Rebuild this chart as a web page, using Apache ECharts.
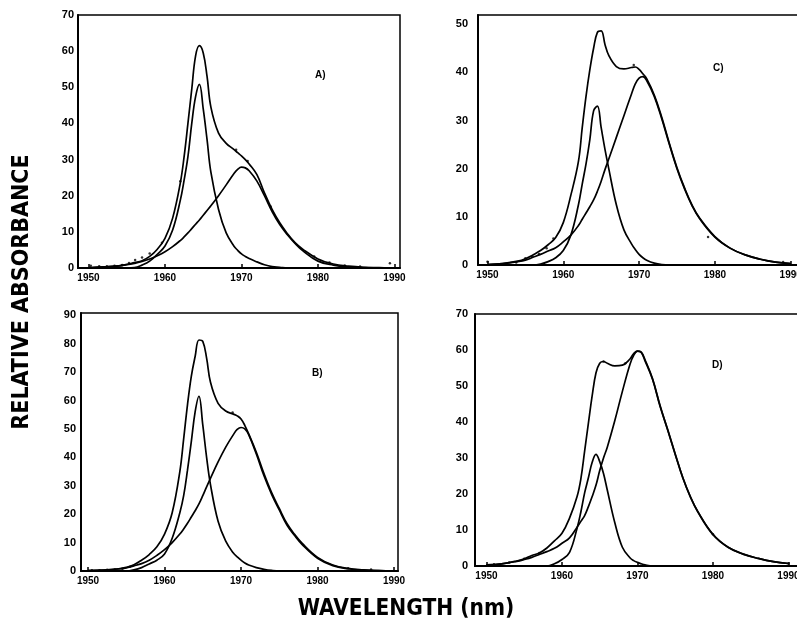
<!DOCTYPE html>
<html>
<head>
<meta charset="utf-8">
<script src="https://cdn.jsdelivr.net/npm/echarts@6/dist/echarts.min.js"></script>
<style>
html,body{margin:0;padding:0;background:#fff;}
#chart{width:797px;height:623px;}
</style>
</head>
<body>
<div id="chart"></div>
<script>
// Wavelength grid (nm)
const wavelength = [1950,1952,1954,1955,1956,1957,1958,1959,1960,1961,1962,1962.5,1963,1963.5,1964,1964.5,1965,1965.5,1966,1967,1968,1969,1969.5,1970,1970.5,1971,1972,1973,1974,1975,1976,1977,1978,1980,1982,1984,1986,1988,1990];

// Panel A
const aPeak1 = [0,0,0,0,0.1,0.8,1.9,3.8,6.1,10.5,18.7,24.3,30.8,40,47.4,50.8,44,35.5,26.5,16.2,9.7,6.1,4.9,3.9,3.2,2.6,1.7,0.9,0.4,0.2,0,0,0,0,0,0,0,0,0];
const aPeak2 = [0,0.3,0.6,0.9,1.3,1.8,2.5,3.4,4.5,5.9,7.6,8.6,9.7,10.9,12.1,13.3,14.6,15.9,17.2,20,23,26.1,27.3,27.9,27.7,26.9,24.1,20,15.6,12,9.2,6.8,4.8,1.9,0.8,0.3,0.1,0,0];
const aSum   = [0.1,0.3,0.6,1.0,1.5,2.0,3.2,5.2,8.2,13.8,23.5,30.8,40,49.5,58.7,61.5,59.5,53,44.5,37.3,34.5,32.8,31.9,31,30,28.8,25.9,20.8,16.2,12.5,9.5,7,5.2,2.5,1.1,0.5,0.2,0.1,0];
const aDotsX = [1950.3,1951.4,1952.4,1953.4,1954.4,1955.3,1956.1,1957.0,1958.0,1959.6,1962.0,1969.3,1970.8,1973.8,1979.5,1981.5,1983.5,1985.5,1989.4];
const aDotsY = [0.6,0.5,0.5,0.6,0.8,1.4,2.2,2.9,4.0,7.0,24,32.7,29.6,17,3.2,1.5,0.7,0.4,1.3];

// Panel B
const bPeak1 = [0,0,0,0,0.4,1.2,2.5,3.8,6,11.5,20.5,26.5,35.5,45.5,56,61.5,51.4,40,30.5,17.5,10.5,6.3,5,3.8,2.8,2.1,1.2,0.6,0.2,0,0,0,0,0,0,0,0,0,0];
const bPeak2 = [0.1,0.3,0.7,1.1,1.8,2.6,3.8,5.5,7.5,10,13,14.8,16.8,19,21.2,23.6,26.5,29.6,32.6,38.4,43.6,48,49.8,50.5,50,48,41.2,33.5,27,21.5,16.2,12.5,9.3,4.5,1.9,0.8,0.3,0.1,0];
const bSum   = [0.1,0.3,0.8,1.3,2.2,3.8,5.8,8.5,13,20.5,35,46.5,58.5,68.5,75.5,81.3,80.8,74.9,66.5,59,56.3,55.2,54.6,53.5,51.2,48.3,41.8,34.3,27.6,22,16.7,12.9,9.7,4.8,2.1,0.9,0.4,0.1,0];
const bDotsX = [1950.5,1951.5,1952.5,1953.5,1954.5,1955.5,1968.9,1984,1987];
const bDotsY = [0.3,0.3,0.4,0.5,0.8,1.5,55.8,1.0,0.5];

// Panel C
const cPeak1 = [0,0,0,0,0,0.2,0.7,1.5,3,6.2,12.5,16.8,21,26,32,33,28.5,24,20,12.5,7.3,4.4,3.2,2.2,1.5,1.0,0.4,0.1,0,0,0,0,0,0,0,0,0,0,0];
const cPeak2 = [0.1,0.3,0.7,1.0,1.6,2.2,2.9,3.6,4.8,6.2,8.2,9.5,10.8,12.1,13.5,15.3,17.4,19.8,22,26.5,31,35.5,37.6,38.8,39.1,38.3,35,30.3,25,20,15.8,12.3,9.6,5.8,3.5,2.1,1.2,0.6,0.3];
const cSum   = [0.1,0.3,0.8,1.3,2.1,3.0,4.2,5.7,8.8,14.5,21.5,28.5,35,40.5,45,48.3,48.6,45.8,43.5,41.2,40.7,41,41.1,40.6,39.7,38.7,35.3,30.6,25.2,20.2,16,12.4,9.7,5.9,3.5,2.1,1.2,0.6,0.3];
const cDotsX = [1950,1953.8,1955,1955.9,1956.8,1957.8,1958.7,1969.3,1979.1,1989];
const cDotsY = [0.7,0.5,1.4,1.8,2.3,3.5,5.5,41.5,5.8,0.6];

// Panel D
const dPeak1 = [0,0,0,0,0,0,0,0.6,1.8,3.8,10.5,15,20.3,24.5,28.8,31,29,25.7,21.1,12,5.2,2.3,1.5,1.0,0.6,0.3,0,0,0,0,0,0,0,0,0,0,0,0,0];
const dPeak2 = [0.3,0.6,1.3,1.8,2.4,3.2,4.0,4.9,6.3,7.8,10.8,12.4,14,16.5,19.3,22.4,26.5,30,33,40.4,48.5,56,58.5,59.7,59.3,57,51.8,44.3,37.8,31,24.5,19.2,15,8.7,5.2,3.3,2.1,1.2,0.7];
const dSum   = [0.3,0.6,1.4,2.0,2.9,3.6,5,7,9.1,13.3,19.3,24.2,31.9,39.7,47.3,53.6,56.3,56.8,56.3,55.6,55.8,57.5,59,59.7,59.4,57.3,52,44.5,37.9,31.1,24.6,19.3,15.1,8.8,5.2,3.3,2.1,1.2,0.7];
const dDotsX = [1951,1953,1955,1957,1965.5,1968.4,1980,1990];
const dDotsY = [0.5,1.0,2.0,3.6,56.8,56.3,8.8,0.7];

// Tick labels
const xTicks = [1950,1960,1970,1980,1990];
const yTicksA = [0,10,20,30,40,50,60,70];
const yTicksB = [0,10,20,30,40,50,60,70,80,90];
const yTicksC = [0,10,20,30,40,50];
const yTicksD = [0,10,20,30,40,50,60,70];
const panelLabels = ['A)','B)','C)','D)'];

const panels = [
  {grid:{left:78,top:15,width:322,height:253}, xmin:1948.63, xmax:1990.72, ymax:70, yTicks:yTicksA, p1:aPeak1, p2:aPeak2, s:aSum, dx:aDotsX, dy:aDotsY, ym:4, label:panelLabels[0], lx:315, ly:70},
  {grid:{left:81,top:313,width:317,height:258}, xmin:1949.08, xmax:1990.52, ymax:90.8, yTicks:yTicksB, p1:bPeak1, p2:bPeak2, s:bSum, dx:bDotsX, dy:bDotsY, ym:5, label:panelLabels[1], lx:312, ly:368},
  {grid:{left:478,top:15,width:328,height:250}, xmin:1948.75, xmax:1992.02, ymax:51.9, yTicks:yTicksC, p1:cPeak1, p2:cPeak2, s:cSum, dx:cDotsX, dy:cDotsY, ym:10, label:panelLabels[2], lx:713, ly:63},
  {grid:{left:475,top:314,width:331,height:252}, xmin:1948.48, xmax:1992.32, ymax:70, yTicks:yTicksD, p1:dPeak1, p2:dPeak2, s:dSum, dx:dDotsX, dy:dDotsY, ym:7, label:panelLabels[3], lx:712, ly:360}
];

const grids = [], xAxes = [], yAxes = [], series = [], graphics = [];
const pair = (xs, ys) => xs.map((x, i) => [x, ys[i]]);

panels.forEach((p, i) => {
  grids.push(Object.assign({show:true, borderColor:'#000', borderWidth:1.5, backgroundColor:'transparent', containLabel:false, outerBoundsMode:'none'}, p.grid));
  xAxes.push({
    type:'value', gridIndex:i, min:p.xmin, max:p.xmax,
    axisLine:{show:true, onZero:false, lineStyle:{color:'#000', width:2}},
    axisTick:{show:true, inside:true, length:4, customValues:xTicks, lineStyle:{color:'#000', width:1.5}},
    axisLabel:{show:true, customValues:xTicks, margin:5, color:'#000', fontFamily:'Liberation Sans', fontWeight:'bold', fontSize:10, hideOverlap:false, formatter:v => String(v)},
    splitLine:{show:false}
  });
  yAxes.push({
    type:'value', gridIndex:i, min:0, max:p.ymax,
    axisLine:{show:true, onZero:false, lineStyle:{color:'#000', width:2}},
    axisTick:{show:false, customValues:p.yTicks},
    axisLabel:{show:true, customValues:p.yTicks, margin:p.ym, color:'#000', fontFamily:'Liberation Sans', fontWeight:'bold', fontSize:11, formatter:v => String(v)},
    splitLine:{show:false}
  });
  [p.p1, p.p2, p.s].forEach(arr => {
    series.push({
      type:'line', xAxisIndex:i, yAxisIndex:i, data:pair(wavelength, arr),
      smooth:0.4, showSymbol:false, symbol:'none', clip:true,
      lineStyle:{color:'#000', width:1.7}, silent:true, animation:false
    });
  });
  series.push({
    type:'scatter', xAxisIndex:i, yAxisIndex:i, data:pair(p.dx, p.dy),
    symbol:'circle', symbolSize:2.5, itemStyle:{color:'#000'}, silent:true, animation:false
  });
  graphics.push({type:'text', left:p.lx, top:p.ly, style:{text:p.label, fill:'#000', font:'bold 10px "Liberation Sans"'}});
});

graphics.push({
  type:'text', x:22, y:292, rotation:Math.PI/2,
  style:{text:'RELATIVE ABSORBANCE', fill:'#000', font:'bold 23px "DejaVu Sans Condensed", "DejaVu Sans"', align:'center', verticalAlign:'middle'}
});
graphics.push({
  type:'text', x:406, y:609,
  style:{text:'WAVELENGTH (nm)', fill:'#000', font:'bold 22.5px "DejaVu Sans Condensed", "DejaVu Sans"', align:'center', verticalAlign:'middle'}
});

const chart = echarts.init(document.getElementById('chart'), null, {renderer:'canvas'});
chart.setOption({
  animation:false,
  backgroundColor:'#fff',
  grid:grids, xAxis:xAxes, yAxis:yAxes, series:series, graphic:graphics
});
</script>
</body>
</html>
